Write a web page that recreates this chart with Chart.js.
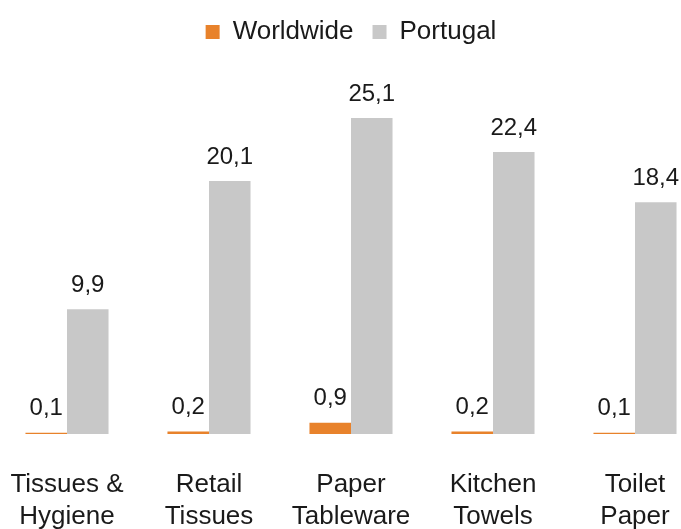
<!DOCTYPE html>
<html>
<head>
<meta charset="utf-8">
<script src="https://cdn.jsdelivr.net/npm/chart.js"></script>
<style>
  html, body { margin: 0; padding: 0; background: #fff; overflow: hidden; }
  #wrap { position: absolute; left: -4px; top: 0; width: 710px; height: 529px; }
</style>
</head>
<body>
<div id="wrap"><canvas id="chart"></canvas></div>
<script>
// Data
const categories = [['Tissues &', 'Hygiene'], ['Retail', 'Tissues'], ['Paper', 'Tableware'], ['Kitchen', 'Towels'], ['Toilet', 'Paper']];
const worldwide = [0.1, 0.2, 0.9, 0.2, 0.1];
const portugal = [9.9, 20.1, 25.1, 22.4, 18.4];

const textColor = '#1a1a1a';
const fontFamily = "'Liberation Sans', Arial, sans-serif";

// Value labels above each bar
const valueLabels = {
  id: 'valueLabels',
  afterDatasetsDraw(chart) {
    const ctx = chart.ctx;
    ctx.save();
    ctx.font = '24px ' + fontFamily;
    ctx.fillStyle = textColor;
    ctx.textAlign = 'center';
    ctx.textBaseline = 'middle';
    chart.data.datasets.forEach((ds, i) => {
      chart.getDatasetMeta(i).data.forEach((bar, j) => {
        const txt = ds.data[j].toFixed(1).replace('.', ',');
        ctx.fillText(txt, bar.x, bar.y - 24);
      });
    });
    ctx.restore();
  }
};

new Chart(document.getElementById('chart'), {
  type: 'bar',
  data: {
    labels: categories,
    datasets: [{
      label: 'Worldwide',
      data: worldwide,
      backgroundColor: '#e8822b',
      barPercentage: 1,
      categoryPercentage: 0.585
    }, {
      label: 'Portugal',
      data: portugal,
      backgroundColor: '#c8c8c8',
      barPercentage: 1,
      categoryPercentage: 0.585
    }]
  },
  options: {
    responsive: true,
    maintainAspectRatio: false,
    animation: false,
    layout: { padding: 0 },
    plugins: {
      legend: {
        position: 'top',
        labels: {
          boxWidth: 14,
          boxHeight: 14,
          padding: 19,
          color: textColor,
          font: { size: 26, family: fontFamily }
        }
      },
      tooltip: { enabled: false }
    },
    scales: {
      y: { display: false, min: 0, max: 30.1 },
      x: {
        grid: { display: true, drawOnChartArea: false, drawTicks: true, tickLength: 35, color: 'transparent' },
        border: { display: false },
        ticks: {
          color: textColor,
          padding: 0,
          maxRotation: 0,
          autoSkip: false,
          font: { size: 26, family: fontFamily, lineHeight: 1.23 }
        },
        afterFit(scale) { scale.height = 95; }
      }
    }
  },
  plugins: [valueLabels]
});
</script>
</body>
</html>
